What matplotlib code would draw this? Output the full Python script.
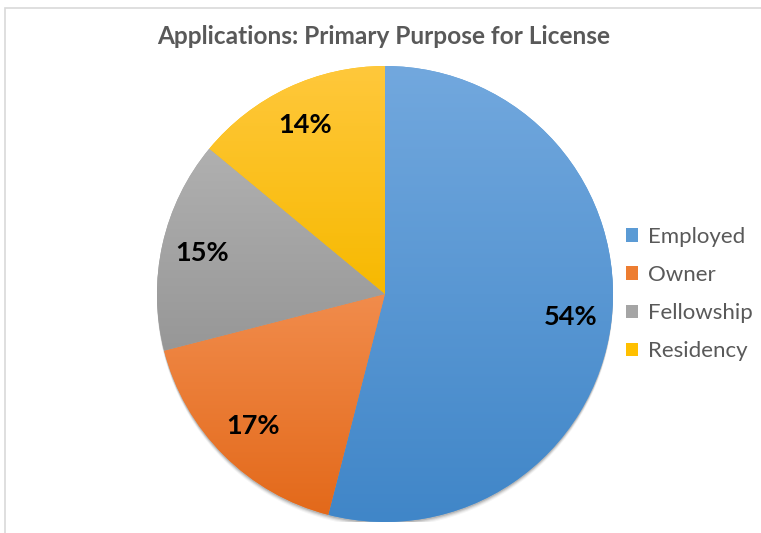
import matplotlib
matplotlib.use("Agg")
import matplotlib.pyplot as plt
import numpy as np
from matplotlib.colors import LinearSegmentedColormap
from matplotlib.patches import Rectangle, Circle

title = "Applications: Primary Purpose for License"
categories = ["Employed", "Owner", "Fellowship", "Residency"]
values = [54, 17, 15, 14]
top_colors = ["#72a8de", "#f18c4c", "#b0b0b0", "#ffc83c"]
bottom_colors = ["#4086c8", "#e3691a", "#979797", "#f7b900"]
solid_colors = ["#5b9bd5", "#ed7d31", "#a5a5a5", "#ffc000"]

W, H = 761, 533
fig = plt.figure(figsize=(W / 100, H / 100), dpi=100)
fig.patch.set_facecolor("white")

# outer chart border
fig.patches.append(Rectangle((5 / W, -0.1), 1.2, (H - 8) / H + 0.1, transform=fig.transFigure,
                             fill=False, edgecolor="#d9d9d9", linewidth=1.2))

cx, cy, r = 385, 294, 228
ax = fig.add_axes([(cx - r) / W, (H - cy - r) / H, 2 * r / W, 2 * r / H])
ax.set_aspect("equal")
ax.axis("off")

# soft shadow (mostly below the pie)
for off, a in [(0.022, 0.04), (0.017, 0.06), (0.012, 0.09), (0.007, 0.12)]:
    ax.add_patch(Circle((0, -off), 1.0, color="black", alpha=a, lw=0, zorder=0))

wedges, texts, autotexts = ax.pie(values, startangle=90, counterclock=False, radius=1.0,
                                  colors=solid_colors, autopct="%d%%", pctdistance=0.82,
                                  wedgeprops=dict(linewidth=0),
                                  textprops=dict(fontsize=19.5, fontweight="bold", color="black",
                                                 family="Lato"))

for w, ct, cb in zip(wedges, top_colors, bottom_colors):
    w.set_zorder(1)
    ext = w.get_path().get_extents(w.get_patch_transform())
    cmap = LinearSegmentedColormap.from_list("g", [cb, ct])
    grad = np.linspace(0, 1, 256).reshape(-1, 1)
    im = ax.imshow(grad, cmap=cmap, origin="lower", aspect="auto",
                   extent=[ext.x0, ext.x1, ext.y0, ext.y1], zorder=2, interpolation="bilinear")
    im.set_clip_path(w)
for t in autotexts:
    t.set_zorder(5)
ax.set_xlim(-1, 1)
ax.set_ylim(-1, 1)

fig.text(0.5 * (155 + 613) / W, (H - 37) / H, title, ha="center", va="center",
         fontsize=17.6, fontweight="bold", color="#595959", family="Lato")

handles = [Rectangle((0, 0), 1, 1, facecolor=c, edgecolor="none") for c in solid_colors]
leg = fig.legend(handles, categories, loc="center left", bbox_to_anchor=(606 / W, (H - 294) / H),
                 frameon=False, handlelength=0.55, handleheight=0.55,
                 handletextpad=0.45, labelspacing=0.82, prop=dict(family="Lato", size=16))
for t in leg.get_texts():
    t.set_color("#595959")

fig.savefig("out.png", dpi=100)
